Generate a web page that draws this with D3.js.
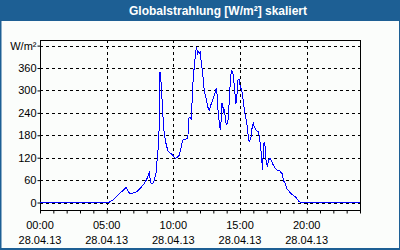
<!DOCTYPE html>
<html>
<head>
<meta charset="utf-8">
<script src="https://cdn.jsdelivr.net/npm/d3@7"></script>
<style>
  body { margin: 0; background: #fbfdfb; }
  svg { display: block; }
</style>
</head>
<body>
<div id="chart"></div>
<script>
const day = "28.04.13";

// Zeitpunkte (HH:MM) und Globalstrahlung in W/m²
const times = ["00:00", "05:07", "05:15", "05:30", "05:45", "06:00", "06:15", "06:27", "06:37", "06:48",
    "07:00", "07:15", "07:30", "07:45", "08:00", "08:12", "08:18", "08:27", "08:34", "08:42",
    "08:48", "08:54", "08:57", "09:00", "09:05", "09:08", "09:12", "09:19", "09:27", "09:35",
    "09:45", "09:57", "10:09", "10:21", "10:27", "10:36", "10:42", "10:54", "11:03", "11:06",
    "11:09", "11:16", "11:21", "11:24", "11:28", "11:34", "11:42", "11:45", "11:50", "11:54",
    "11:59", "12:01", "12:06", "12:12", "12:19", "12:27", "12:35", "12:41", "12:46", "12:54",
    "13:02", "13:09", "13:13", "13:17", "13:21", "13:27", "13:31", "13:36", "13:39", "13:43",
    "13:47", "13:51", "13:54", "14:00", "14:06", "14:12", "14:16", "14:21", "14:24", "14:27",
    "14:32", "14:36", "14:42", "14:47", "14:51", "14:57", "15:01", "15:08", "15:15", "15:22",
    "15:30", "15:35", "15:41", "15:45", "15:50", "15:55", "16:00", "16:04", "16:12", "16:22",
    "16:27", "16:33", "16:38", "16:42", "16:45", "16:49", "16:53", "16:57", "17:03", "17:09",
    "17:15", "17:23", "17:30", "17:38", "17:48", "17:57", "18:03", "18:10", "18:15", "18:23",
    "18:30", "18:42", "18:53", "19:08", "19:18", "19:27", "19:34", "23:59"];
const values = [0, 0, 2, 7, 16, 25, 33, 41, 29, 23,
    26, 29, 38, 47, 62, 80, 53, 50, 60, 78,
    123, 158, 221, 350, 319, 292, 240, 185, 158, 139,
    133, 127, 118, 123, 127, 149, 167, 169, 171, 181,
    225, 228, 223, 265, 319, 363, 408, 413, 399, 404,
    399, 401, 373, 346, 301, 279, 256, 246, 256, 270,
    283, 297, 306, 288, 248, 212, 194, 225, 265, 256,
    243, 248, 221, 207, 221, 274, 319, 355, 346, 350,
    328, 301, 265, 292, 328, 330, 310, 301, 270, 239,
    216, 189, 163, 167, 176, 203, 212, 203, 194, 189,
    176, 149, 114, 87, 149, 163, 149, 114, 96, 114,
    118, 109, 100, 92, 87, 87, 80, 78, 60, 51,
    38, 29, 22, 16, 9, 2, 0, 0];

const yTicks = [0, 60, 120, 180, 240, 300, 360, 420];
const xLabels = ["00:00", "05:00", "10:00", "15:00", "20:00"];

const W = 400, H = 250;
const margin = {top: 40, right: 40, bottom: 40, left: 40};
const blue = "#1d5f94";

const parse = d3.timeParse("%d.%m.%y %H:%M");
const data = times.map((t, i) => ({date: parse(day + " " + t), value: values[i]}));

const t0 = parse(day + " 00:00");
const t1 = d3.timeDay.offset(t0, 1);

const x = d3.scaleTime()
    .domain([t0, t1])
    .range([margin.left, W - margin.right]);

const y = d3.scaleLinear()
    .domain([-20, 435])
    .range([H - margin.bottom, margin.top]);

const svg = d3.select("#chart")
    .append("svg")
    .attr("width", W)
    .attr("height", H)
    .style("font-family", "'Liberation Sans', Arial, sans-serif");

// Rahmen und Titelleiste
svg.append("rect")
    .attr("x", 0).attr("y", 0)
    .attr("width", W).attr("height", H)
    .attr("fill", blue);
svg.append("rect")
    .attr("x", 1.5).attr("y", 21)
    .attr("width", W - 2.5).attr("height", H - 23)
    .attr("fill", "#fbfdfb");

svg.append("text")
    .attr("x", 218)
    .attr("y", 14.5)
    .attr("text-anchor", "middle")
    .attr("fill", "#fff")
    .style("font-weight", "bold")
    .style("font-size", "12px")
    .text("Globalstrahlung [W/m²] skaliert");

// Gitter
const grid = svg.append("g")
    .attr("stroke", "#000")
    .attr("stroke-width", 1)
    .attr("stroke-dasharray", "3,3")
    .attr("shape-rendering", "crispEdges");

grid.selectAll("line.h")
    .data(yTicks)
    .enter()
    .append("line")
    .attr("class", "h")
    .attr("x1", margin.left)
    .attr("x2", W - margin.right)
    .attr("y1", d => Math.round(y(d)) + 0.5)
    .attr("y2", d => Math.round(y(d)) + 0.5);

grid.selectAll("line.v")
    .data(xLabels.slice(1))
    .enter()
    .append("line")
    .attr("class", "v")
    .attr("x1", d => Math.round(x(parse(day + " " + d))) + 0.5)
    .attr("x2", d => Math.round(x(parse(day + " " + d))) + 0.5)
    .attr("y1", margin.top)
    .attr("y2", H - margin.bottom);

// Y-Achse
const yAxis = d3.axisLeft(y)
    .tickValues(yTicks)
    .tickSize(3)
    .tickFormat(d => d === 420 ? "W/m²" : d);

svg.append("g")
    .attr("transform", "translate(" + (margin.left + 0.5) + ",0)")
    .call(yAxis)
    .call(g => g.select(".domain").remove())
    .call(g => g.selectAll("text")
        .attr("fill", "#000")
        .style("font-size", "11px")
        .attr("font-family", null)
        .attr("x", -4))
    .call(g => g.selectAll("line").attr("stroke", "#000"));

// X-Achse
const xAxis = d3.axisBottom(x)
    .ticks(d3.timeHour.every(1))
    .tickSize(3)
    .tickFormat("");

svg.append("g")
    .attr("transform", "translate(0," + (H - margin.bottom + 0.5) + ")")
    .call(xAxis)
    .call(g => g.select(".domain").remove())
    .call(g => g.selectAll("line").attr("stroke", "#000"));

const xl = svg.append("g")
    .style("font-size", "11px")
    .attr("text-anchor", "middle")
    .attr("fill", "#000");

xLabels.forEach(function (d) {
    const px = x(parse(day + " " + d));
    xl.append("text").attr("x", px).attr("y", 229).text(d);
    xl.append("text").attr("x", px).attr("y", 243.5).text(day);
});

// Plotrahmen
svg.append("rect")
    .attr("x", margin.left + 0.5)
    .attr("y", margin.top + 0.5)
    .attr("width", W - margin.left - margin.right)
    .attr("height", H - margin.top - margin.bottom)
    .attr("fill", "none")
    .attr("stroke", "#000")
    .attr("shape-rendering", "crispEdges");

// Kurve
const line = d3.line()
    .x(d => x(d.date))
    .y(d => y(d.value));

svg.append("path")
    .datum(data)
    .attr("fill", "none")
    .attr("stroke", "#0000ff")
    .attr("stroke-width", 1)
    .attr("shape-rendering", "crispEdges")
    .attr("d", line);
</script>
</body>
</html>
